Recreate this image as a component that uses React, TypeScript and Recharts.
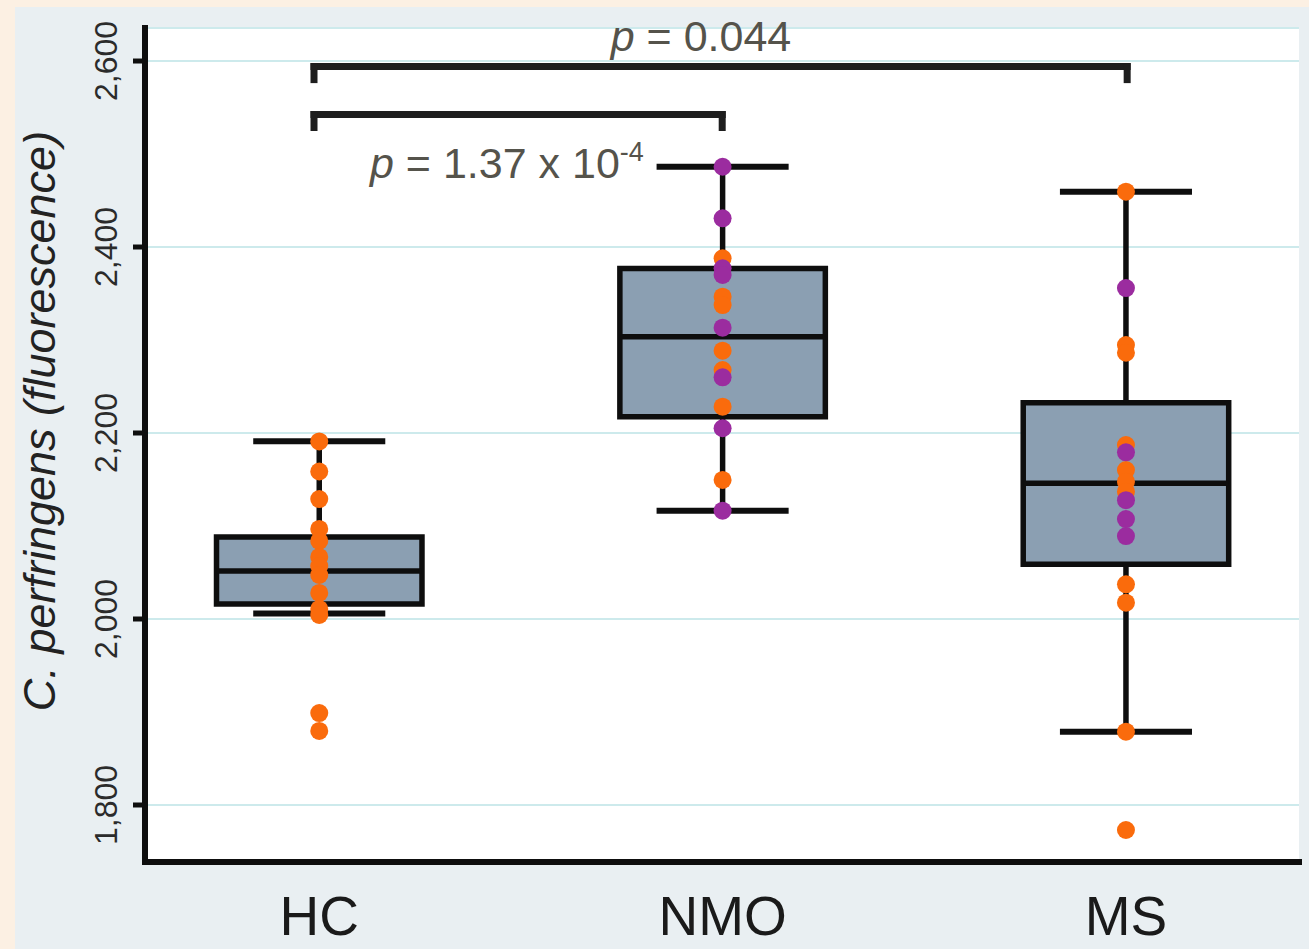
import React from 'react';
import {
  ComposedChart,
  XAxis,
  YAxis,
  CartesianGrid,
  Scatter,
  ReferenceArea,
  ReferenceLine,
} from 'recharts';

// Groups and their positions on the numeric x axis
const categories = ['HC', 'NMO', 'MS'];
const categoryPositions = [1, 2, 3];
const yTicks = [1800, 2000, 2200, 2400, 2600];

// Five-number summaries: [lower whisker, Q1, median, Q3, upper whisker]
const hcBox = [2006, 2016, 2051.6, 2088.2, 2191];
const nmoBox = [2116.5, 2217.5, 2303.5, 2377, 2486.3];
const msBox = [1878.8, 2059, 2146, 2232.6, 2459.5];

// Individual measurements, split by dot colour
const hcOrange = [2190.9, 2158.6, 2129.0, 2096.8, 2083.9, 2066.7, 2057.0, 2047.3, 2028.0, 2010.8, 2004.3, 1898.9, 1879.6];
const nmoOrange = [2387.8, 2346.6, 2337.6, 2288.5, 2267.7, 2228.3, 2149.5];
const nmoPurple = [2486.3, 2430.9, 2377.1, 2369.9, 2313.2, 2259.9, 2205.1, 2116.5];
const msOrange = [2459.5, 2294.6, 2286.3, 2187.1, 2160.2, 2147.6, 2136.9, 2037.3, 2017.5, 1878.8, 1773.1];
const msPurple = [2355.9, 2179.2, 2127.8, 2107.5, 2089.2];

// Pairwise comparisons: bracket ends (x), bar level and leg end (y), p-value text
const comparisonFrom = [0.987, 0.987];
const comparisonTo = [3.003, 1.999];
const comparisonLevel = [2594, 2542.5];
const comparisonLegEnd = [2580, 2528.5];
const comparisonP = ['0.044', '1.37 x 10'];
const comparisonExp = ['', '-4'];

const FONT = "'Liberation Sans', Arial, Helvetica, sans-serif";
const ORANGE = '#fa6b0c';
const PURPLE = '#9b2c9f';
const BOX_FILL = '#8b9fb2';
const INK = '#0e0e0e';
const P_INK = '#55534b';

const BOX_HALF = 0.2547;
const CAP_HALF = 0.1637;

const boxes = [hcBox, nmoBox, msBox];

const toPoints = (x: number, values: number[]) => values.map((y) => ({ x, y }));

const dot = (color: string) => (props: any) => (
  <circle cx={props.cx} cy={props.cy} r={9} fill={color} />
);

const YTick = (props: any) => {
  const { x, y, payload } = props;
  const bx = x - 14;
  return (
    <text
      x={bx}
      y={y}
      transform={`rotate(-90 ${bx} ${y})`}
      textAnchor="middle"
      fontFamily={FONT}
      fontSize={32}
      fill="#2b2b2b"
    >
      {Number(payload.value).toLocaleString('en-US')}
    </text>
  );
};

const XTick = (props: any) => {
  const { x, y, payload } = props;
  const idx = categoryPositions.indexOf(payload.value);
  return (
    <text x={x} y={y + 71} textAnchor="middle" fontFamily={FONT} fontSize={55} fill="#1a1a1a">
      {categories[idx]}
    </text>
  );
};

const YLabel = () => (
  <text
    x={55}
    y={421}
    transform="rotate(-90 55 421)"
    textAnchor="middle"
    fontFamily={FONT}
    fontSize={45}
    fontStyle="italic"
    fill="#222222"
  >
    C. perfringens (fluorescence)
  </text>
);

const topPLabel = (props: any) => {
  const vb = props.viewBox;
  return (
    <text x={vb.x + 387} y={vb.y - 15.5} textAnchor="middle" fontFamily={FONT} fontSize={43} fill={P_INK}>
      <tspan fontStyle="italic">p</tspan>
      <tspan>{` = ${comparisonP[0]}`}</tspan>
    </text>
  );
};

const lowerPLabel = (props: any) => {
  const vb = props.viewBox;
  return (
    <text x={vb.x + 56} y={vb.y + 63.5} textAnchor="start" fontFamily={FONT} fontSize={43} fill={P_INK}>
      <tspan fontStyle="italic">p</tspan>
      <tspan>{` = ${comparisonP[1]}`}</tspan>
      <tspan dy={-17} fontSize={27}>{comparisonExp[1]}</tspan>
    </text>
  );
};

export default function App() {
  return (
    <div
      style={{
        position: 'absolute',
        left: 0,
        top: 0,
        width: 1309,
        height: 949,
        background: '#fcf0e3',
        overflow: 'hidden',
      }}
    >
      <div
        style={{
          position: 'absolute',
          left: 15,
          top: 7,
          right: 0,
          bottom: 0,
          background: '#e9eff2',
        }}
      />
      <div style={{ position: 'absolute', left: 0, top: 0 }}>
        <ComposedChart
          width={1309}
          height={949}
          margin={{ top: 28, right: 10, bottom: 0, left: 0 }}
        >
          <CartesianGrid
            horizontal
            vertical={false}
            stroke="#cdeaec"
            strokeWidth={2}
            fill="#ffffff"
            fillOpacity={1}
          />
          <XAxis
            type="number"
            dataKey="x"
            domain={[0.568, 3.429]}
            ticks={categoryPositions}
            allowDataOverflow
            height={87}
            tickLine={false}
            tickSize={0}
            axisLine={{ stroke: INK, strokeWidth: 6, strokeLinecap: 'square' }}
            tick={<XTick />}
            interval={0}
          />
          <YAxis
            type="number"
            dataKey="y"
            domain={[1738.7, 2635.5]}
            ticks={yTicks}
            allowDataOverflow
            width={145}
            tickSize={12}
            tickLine={{ stroke: INK, strokeWidth: 5 }}
            axisLine={{ stroke: INK, strokeWidth: 6, strokeLinecap: 'square' }}
            tick={<YTick />}
            interval={0}
            label={<YLabel />}
          />

          {boxes.map((b, i) => {
            const c = categoryPositions[i];
            return (
              <React.Fragment key={categories[i]}>
                <ReferenceLine
                  segment={[{ x: c, y: b[3] }, { x: c, y: b[4] }]}
                  stroke={INK}
                  strokeWidth={5.5}
                />
                <ReferenceLine
                  segment={[{ x: c, y: b[0] }, { x: c, y: b[1] }]}
                  stroke={INK}
                  strokeWidth={5.5}
                />
                <ReferenceLine
                  segment={[{ x: c - CAP_HALF, y: b[4] }, { x: c + CAP_HALF, y: b[4] }]}
                  stroke={INK}
                  strokeWidth={6}
                />
                <ReferenceLine
                  segment={[{ x: c - CAP_HALF, y: b[0] }, { x: c + CAP_HALF, y: b[0] }]}
                  stroke={INK}
                  strokeWidth={6}
                />
                <ReferenceArea
                  x1={c - BOX_HALF}
                  x2={c + BOX_HALF}
                  y1={b[1]}
                  y2={b[3]}
                  fill={BOX_FILL}
                  fillOpacity={1}
                  stroke={INK}
                  strokeWidth={5.5}
                />
                <ReferenceLine
                  segment={[{ x: c - BOX_HALF, y: b[2] }, { x: c + BOX_HALF, y: b[2] }]}
                  stroke={INK}
                  strokeWidth={5.5}
                />
              </React.Fragment>
            );
          })}

          {comparisonLevel.map((lvl, i) => (
            <React.Fragment key={`cmp-${i}`}>
              <ReferenceLine
                segment={[{ x: comparisonFrom[i], y: lvl }, { x: comparisonTo[i], y: lvl }]}
                stroke="#1e1e1e"
                strokeWidth={7}
                strokeLinecap="square"
                label={i === 0 ? topPLabel : lowerPLabel}
              />
              <ReferenceLine
                segment={[{ x: comparisonFrom[i], y: lvl }, { x: comparisonFrom[i], y: comparisonLegEnd[i] }]}
                stroke="#1e1e1e"
                strokeWidth={7}
                strokeLinecap="square"
              />
              <ReferenceLine
                segment={[{ x: comparisonTo[i], y: lvl }, { x: comparisonTo[i], y: comparisonLegEnd[i] }]}
                stroke="#1e1e1e"
                strokeWidth={7}
                strokeLinecap="square"
              />
            </React.Fragment>
          ))}

          <Scatter data={toPoints(1, hcOrange)} shape={dot(ORANGE)} isAnimationActive={false} />
          <Scatter data={toPoints(2, nmoOrange)} shape={dot(ORANGE)} isAnimationActive={false} />
          <Scatter data={toPoints(2, nmoPurple)} shape={dot(PURPLE)} isAnimationActive={false} />
          <Scatter data={toPoints(3, msOrange)} shape={dot(ORANGE)} isAnimationActive={false} />
          <Scatter data={toPoints(3, msPurple)} shape={dot(PURPLE)} isAnimationActive={false} />
        </ComposedChart>
      </div>
    </div>
  );
}
